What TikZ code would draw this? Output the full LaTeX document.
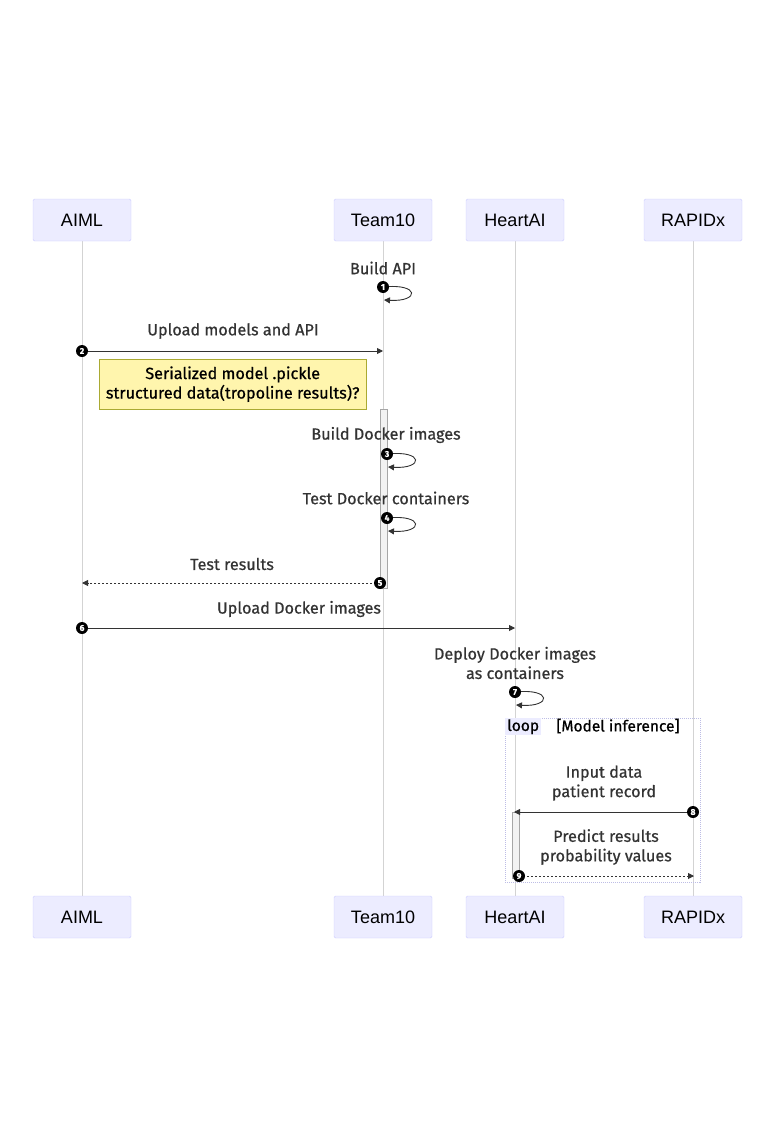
\documentclass[tikz,border=0pt]{standalone}
\usepackage{fontspec}
\setmainfont{Fira Sans}
\newfontfamily\msgfont{Fira Sans}[FakeBold=0.7]
\newfontfamily\actorfont{Liberation Sans}
\usetikzlibrary{arrows.meta}
\definecolor{actfill}{HTML}{ECECFF}
\definecolor{actdraw}{HTML}{CCCCFF}
\definecolor{linecol}{HTML}{333333}
\definecolor{lifecol}{HTML}{D3D3D3}
\definecolor{notefill}{HTML}{FFF5AD}
\definecolor{notedraw}{HTML}{AAAA33}
\definecolor{txtcol}{HTML}{333333}
\tikzset{
  actor/.style={draw=actdraw, fill=actfill, rounded corners=1.5pt, minimum width=98pt, minimum height=42pt, inner sep=0pt, font=\actorfont\fontsize{18}{18}\selectfont},
  lifeline/.style={draw=lifecol, line width=0.6pt},
  msg/.style={draw=linecol, line width=0.9pt, -{Triangle[length=6pt,width=6pt]}},
  dmsg/.style={msg, dash pattern=on 2pt off 2pt},
  lbl/.style={text=txtcol, font=\msgfont\fontsize{16.2}{19.5}\selectfont, align=center, inner sep=0pt},
  num/.style={circle, fill=black, text=white, inner sep=0pt, minimum size=12pt, font=\msgfont\bfseries\fontsize{8.5}{8.5}\selectfont},
  activ/.style={draw=gray!70, fill=gray!10, line width=0.6pt},
}
\begin{document}
\begin{tikzpicture}[x=1pt,y=-1pt]
\useasboundingbox (0,0) rectangle (784,1132);
% lifelines
\foreach \n/\x in {a/82,t/383,h/515,r/693}{
  \coordinate (\n top) at (\x,241);
  \coordinate (\n bot) at (\x,896);
  \draw[lifeline] (\n top) -- (\n bot);
}
% actors
\node[actor] (aimlT) at (82,220) {AIML};
\node[actor] (teamT) at (383,220) {Team10};
\node[actor] (heartT) at (515,220) {HeartAI};
\node[actor] (rapT) at (693,220) {RAPIDx};
\node[actor] (aimlB) at (82,917) {AIML};
\node[actor] (teamB) at (383,917) {Team10};
\node[actor] (heartB) at (515,917) {HeartAI};
\node[actor] (rapB) at (693,917) {RAPIDx};
% activations
\draw[activ] (380,409) rectangle (387,588);
% loop box
\draw[draw=actdraw!80!gray, dash pattern=on 1pt off 1pt, line width=0.8pt] (505,718) rectangle (700,882);
\node[fill=actfill, minimum width=36pt, minimum height=17pt, inner sep=0pt, anchor=north west, font=\msgfont\fontsize{15.5}{15.5}\selectfont] (loopl) at (505,718) {loop};
\node[lbl, font=\msgfont\fontsize{15.5}{15.5}\selectfont, text=black] (loopc) at (618,726) {[Model inference]};
\draw[activ] (512,812) rectangle (519,878);

% message 1
\node[lbl] (l1) at (383,268) {Build API};
\coordinate (s1) at (383,287); \coordinate (e1) at (384,300);
\draw[msg] (s1) .. controls (420,283) and (420,302) .. (e1);
\node[num] (n1) at (s1) {1};
% message 2
\node[lbl] (l2) at (233,331) {Upload models and API};
\coordinate (s2) at (82,351); \coordinate (e2) at (383,351);
\draw[msg] (s2) -- (e2);
\node[num] (n2) at (s2) {2};
% note
\node[draw=notedraw, fill=notefill, minimum width=267pt, minimum height=50pt, inner sep=0pt, align=center, font=\msgfont\fontsize{16.2}{19.5}\selectfont, anchor=north west] (note) at (99,359) {Serialized model .pickle\\structured data(tropoline results)?};
% message 3
\node[lbl] (l3) at (386,435) {Build Docker images};
\coordinate (s3) at (387,454); \coordinate (e3) at (388,467);
\draw[msg] (s3) .. controls (424,450) and (424,469) .. (e3);
\node[num] (n3) at (s3) {3};
% message 4
\node[lbl] (l4) at (386,498) {Test Docker containers};
\coordinate (s4) at (387,518); \coordinate (e4) at (388,531);
\draw[msg] (s4) .. controls (424,514) and (424,533) .. (e4);
\node[num] (n4) at (s4) {4};
% message 5
\node[lbl] (l5) at (232,564) {Test results};
\coordinate (s5) at (380,583); \coordinate (e5) at (82,583);
\draw[dmsg] (s5) -- (e5);
\node[num] (n5) at (s5) {5};
% message 6
\node[lbl] (l6) at (299,609) {Upload Docker images};
\coordinate (s6) at (82,628); \coordinate (e6) at (515,628);
\draw[msg] (s6) -- (e6);
\node[num] (n6) at (s6) {6};
% message 7
\node[lbl] (l7) at (515,663) {Deploy Docker images\\as containers};
\coordinate (s7) at (515,692); \coordinate (e7) at (516,705);
\draw[msg] (s7) .. controls (552,688) and (552,707) .. (e7);
\node[num] (n7) at (s7) {7};
% message 8
\node[lbl] (l8) at (604,783) {Input data\\patient record};
\coordinate (s8) at (693,812); \coordinate (e8) at (514,812);
\draw[msg] (s8) -- (e8);
\node[num] (n8) at (s8) {8};
% message 9
\node[lbl] (l9) at (606,847) {Predict results\\probability values};
\coordinate (s9) at (519,876); \coordinate (e9) at (694,876);
\draw[dmsg] (s9) -- (e9);
\node[num] (n9) at (s9) {9};
\end{tikzpicture}
\end{document}
